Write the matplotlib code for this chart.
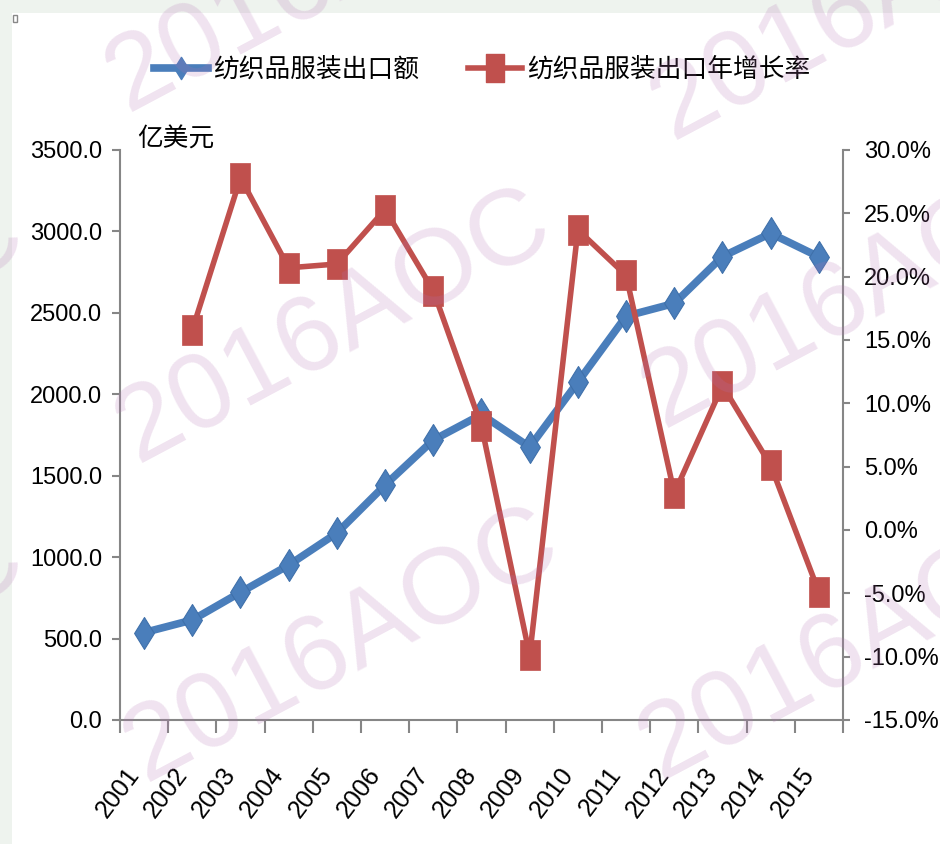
import matplotlib
matplotlib.use('Agg')
import matplotlib.pyplot as plt
import numpy as np
from matplotlib.path import Path
from matplotlib.patches import Rectangle
from matplotlib.lines import Line2D
from matplotlib.ticker import FuncFormatter

years = ['2001', '2002', '2003', '2004', '2005', '2006', '2007', '2008',
         '2009', '2010', '2011', '2012', '2013', '2014', '2015']
export_value = [537, 614, 784, 951, 1148, 1443, 1719, 1876, 1676, 2075,
                2480, 2558, 2846, 2988, 2844]          # 亿美元
export_growth = [np.nan, 15.8, 27.8, 20.7, 21.0, 25.3, 18.9, 8.2, -9.9,
                 23.7, 20.1, 2.9, 11.4, 5.1, -4.9]     # %

label_value = '纺织品服装出口额'
label_growth = '纺织品服装出口年增长率'
unit_label = '亿美元'

BLUE = '#4a7ebb'
RED = '#c0504d'
GREY = '#868686'
num_font = ['Liberation Sans', 'DejaVu Sans']
cjk_font = ['Noto Sans CJK SC', 'DejaVu Sans']

# tall, narrow markers like the squeezed Excel output
diamond = Path([(0, -0.5), (0.31, 0), (0, 0.5), (-0.31, 0), (0, -0.5)],
               [Path.MOVETO, Path.LINETO, Path.LINETO, Path.LINETO, Path.CLOSEPOLY])
rect = Path([(-0.33, -0.5), (0.33, -0.5), (0.33, 0.5), (-0.33, 0.5), (-0.33, -0.5)],
            [Path.MOVETO, Path.LINETO, Path.LINETO, Path.LINETO, Path.CLOSEPOLY])

W, H = 940, 844
fig = plt.figure(figsize=(W / 100, H / 100), dpi=100)
fig.patch.set_facecolor('white')

# light window frame on top and left
fig.patches.append(Rectangle((0, 1 - 13 / H), 1, 13 / H, transform=fig.transFigure,
                             facecolor='#eef3ee', edgecolor='none', zorder=-5))
fig.patches.append(Rectangle((0, 0), 12 / W, 1, transform=fig.transFigure,
                             facecolor='#eef3ee', edgecolor='none', zorder=-5))
fig.patches.append(Rectangle((13 / W, 1 - 22 / H), 4 / W, 7 / H, transform=fig.transFigure,
                             facecolor='white', edgecolor='#888888', lw=1, zorder=-4))

ax = fig.add_axes([120 / W, 1 - 720 / H, 723 / W, 570 / H])
ax2 = ax.twinx()

x = np.arange(len(years))
ax.plot(x, export_value, color=BLUE, lw=5.5, marker=diamond, markersize=23,
        markerfacecolor=BLUE, markeredgecolor='#3f70aa', markeredgewidth=0.8,
        solid_joinstyle='round', zorder=3)
ax2.plot(x, np.array(export_growth) / 100, color=RED, lw=4, marker=rect, markersize=22,
         markerfacecolor=RED, markeredgecolor=RED, markeredgewidth=0.5, zorder=3)

ax.set_xlim(-0.5, len(years) - 0.5)
ax.set_ylim(0, 3500)
ax.set_yticks(np.arange(0, 3501, 500))
ax.yaxis.set_major_formatter(FuncFormatter(lambda v, p: f'{v:.1f}'))
ax2.set_ylim(-0.15, 0.30)
ax2.set_yticks(np.arange(-0.15, 0.301, 0.05))
ax2.yaxis.set_major_formatter(FuncFormatter(lambda v, p: f'{v * 100:.1f}%'))

ax.set_xticks(x)
ax.set_xticks(np.arange(-0.5, len(years), 1.0), minor=True)
ax.set_xticklabels(years, rotation=53, ha='right', va='top',
                   family=num_font, fontsize=18)
ax.tick_params(axis='x', which='major', length=0, pad=31)
ax.tick_params(axis='x', which='minor', length=9, width=1.5, color=GREY)
ax.tick_params(axis='y', length=6, width=1.5, color=GREY, pad=7)
ax2.tick_params(axis='y', length=5, width=1.5, color=GREY, pad=10)
for lab in ax.get_yticklabels() + ax2.get_yticklabels():
    lab.set_family(num_font)
    lab.set_fontsize(17)

for s in ['top', 'right']:
    ax.spines[s].set_visible(False)
for s in ['left', 'bottom']:
    ax.spines[s].set_color(GREY)
    ax.spines[s].set_linewidth(1.5)
for s in ['top', 'left', 'bottom']:
    ax2.spines[s].set_visible(False)
ax2.spines['right'].set_color(GREY)
ax2.spines['right'].set_linewidth(1.5)

fig.text(137 / W, 1 - 140 / H, unit_label, family=cjk_font, fontsize=18.5,
         ha='left', va='center')

handles = [
    Line2D([], [], color=BLUE, lw=5.5, marker=diamond, markersize=16,
           markerfacecolor=BLUE, markeredgecolor=BLUE),
    Line2D([], [], color=RED, lw=4, marker=rect, markersize=20,
           markerfacecolor=RED, markeredgecolor=RED),
]
fig.legend(handles, [label_value, label_growth], loc='center',
           bbox_to_anchor=(482 / W, 1 - 70 / H), ncol=2, frameon=False,
           prop={'family': cjk_font, 'size': 18.5}, handlelength=2.1,
           handletextpad=0.2, columnspacing=1.9)

# 2016AOC watermark grid
marks = [(-390, 472), (-390, 797), (127, 112), (137, 463), (145, 782),
         (672, 140), (663, 428), (660, 780)]
for mx, my in marks:
    fig.text(mx / W, 1 - my / H, '2016AOC', family=['Liberation Sans', 'DejaVu Sans'],
             fontsize=78, color='#b473b4', alpha=0.2, rotation=28,
             rotation_mode='anchor', ha='left', va='baseline', zorder=10)

fig.savefig('out.png', dpi=100)
